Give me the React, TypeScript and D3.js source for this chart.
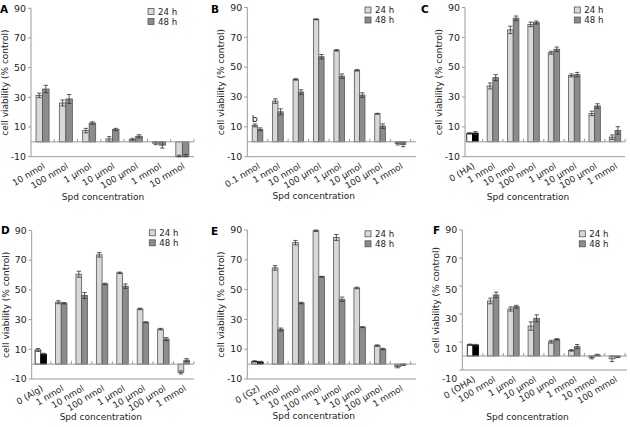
import React from 'react';
import * as d3 from 'd3';

const yTicks = [-10, 10, 30, 50, 70, 90];
const seriesNames = ['24 h', '48 h'];

const catsA = ['10 nmol', '100 nmol', '1 μmol', '10 μmol', '100 μmol', '1 mmol', '10 mmol'];
const a24 = [31.3, 26.2, 7.6, 2.0, 1.6, -0.9, -11];
const a24e = [1.5, 2, 1.5, 1.5, 0.8, 1, 2];
const a48 = [35.6, 28.9, 12.7, 8.3, 3.8, -2.2, -11];
const a48e = [2.5, 3, 0.8, 0.8, 1, 2, 2.5];

const catsB = ['0.1 nmol', '1 nmol', '10 nmol', '100 μmol', '1 μmol', '10 μmol', '100 μmol', '1 mmol'];
const b24 = [11, 27.3, 41.8, 82.1, 61.3, 47.9, 18.8, -1.1];
const b24e = [1, 1.5, 0.5, 0.3, 0.5, 0.5, 0.3, 1];
const b48 = [8.3, 20.1, 33.3, 57, 44, 31.3, 10.5, -1.8];
const b48e = [1, 2, 1.5, 1.5, 1.5, 1.5, 1.5, 1.5];

const catsC = ['0 (HA)', '1 nmol', '10 nmol', '100 nmol', '1 μmol', '10 μmol', '100 μmol', '1 mmol'];
const c24 = [5.6, 37.4, 75, 78.7, 59.7, 44.5, 19, 3.1];
const c24e = [0.5, 2, 2.5, 1.5, 1, 1, 1.5, 1.5];
const c48 = [5.8, 43, 82.8, 79.9, 62, 45, 24, 7.6];
const c48e = [1, 2, 1.5, 1, 1.5, 1.5, 1.5, 2.5];

const catsD = ['0 (Alg)', '1 nmol', '10 nmol', '100 nmol', '1 μmol', '10 μmol', '100 μmol', '1 mmol'];
const d24 = [9.5, 41.7, 60.6, 73.6, 61.5, 37.2, 23.6, -5.6];
const d24e = [1, 1, 2, 1.5, 0.5, 0.5, 0.5, 1];
const d48 = [6.8, 41, 46.2, 54, 52.5, 28.2, 16.9, 2.7];
const d48e = [0.5, 0.5, 2, 0.5, 1.5, 0.3, 1, 1];

const catsE = ['0 (Gz)', '1 nmol', '10 nmol', '100 nmol', '1 μmol', '10 μmol', '100 μmol', '1 mmol'];
const e24 = [1.8, 64.6, 81.5, 89.5, 85, 51.1, 12.4, -1.8];
const e24e = [0.5, 1.5, 1.5, 0.5, 2, 0.5, 0.5, 0.7];
const e48 = [1.4, 23.2, 41, 58.6, 43.5, 24.8, 10.1, -0.5];
const e48e = [0.5, 1, 0.5, 0.3, 1.5, 0.3, 0.5, 0.5];

const catsF = ['0 (OHA)', '100 nmol', '1 μmol', '10 μmol', '100 μmol', '1 mmol', '10 mmol', '100 mmol'];
const f24 = [8, 39.3, 33.6, 21.4, 10.2, 4, -1, -2];
const f24e = [0.5, 2, 1.5, 3, 1, 0.5, 1, 2];
const f48 = [7.8, 43.6, 35.2, 26.9, 11.9, 6.7, 0.7, -0.7];
const f48e = [0.5, 2, 1, 2.5, 0.5, 1.5, 0.5, 0.5];

type Layout = {
  letter: string; lx: number; ly: number;
  axisX: number; bandStart: number; bandEnd: number; axisEnd: number;
  yTop: number; yBottom: number; labelBottom: number;
  legX: number; legY: number; titleX: number; titleY: number;
  control: boolean; barFrac: number;
};

const panels: { layout: Layout; cats: string[]; v24: number[]; e24: number[]; v48: number[]; e48: number[]; note?: string }[] = [
  { layout: { letter: 'A', lx: 0, ly: 12.5, axisX: 31, bandStart: 30.9, bandEnd: 194, axisEnd: 194, yTop: 8.3, yBottom: 156.7, labelBottom: 156.7, legX: 148, legY: 8.5, titleX: 103, titleY: 200, control: false, barFrac: 0.28 }, cats: catsA, v24: a24, e24: a24e, v48: a48, e48: a48e },
  { layout: { letter: 'B', lx: 211, ly: 12.7, axisX: 247.3, bandStart: 247.3, bandEnd: 410.7, axisEnd: 416, yTop: 7.5, yBottom: 156.7, labelBottom: 156.7, legX: 365, legY: 7, titleX: 313.7, titleY: 198.5, control: false, barFrac: 0.26 }, cats: catsB, v24: b24, e24: b24e, v48: b48, e48: b48e, note: 'b' },
  { layout: { letter: 'C', lx: 421, ly: 12.5, axisX: 465, bandStart: 462.3, bandEnd: 625.2, axisEnd: 625, yTop: 7.5, yBottom: 156.7, labelBottom: 156.7, legX: 574.3, legY: 7, titleX: 528, titleY: 200, control: true, barFrac: 0.28 }, cats: catsC, v24: c24, e24: c24e, v48: c48, e48: c48e },
  { layout: { letter: 'D', lx: 1, ly: 234, axisX: 31.7, bandStart: 30.6, bandEnd: 194, axisEnd: 194, yTop: 230.5, yBottom: 379, labelBottom: 379, legX: 149.3, legY: 229.8, titleX: 100.8, titleY: 420, control: true, barFrac: 0.28 }, cats: catsD, v24: d24, e24: d24e, v48: d48, e48: d48e },
  { layout: { letter: 'E', lx: 211, ly: 234.5, axisX: 247.3, bandStart: 247.3, bandEnd: 410.7, axisEnd: 416, yTop: 230, yBottom: 379, labelBottom: 379, legX: 365, legY: 230.8, titleX: 313.7, titleY: 418.5, control: true, barFrac: 0.28 }, cats: catsE, v24: e24, e24: e24e, v48: e48, e48: e48e },
  { layout: { letter: 'F', lx: 433, ly: 234, axisX: 462.3, bandStart: 462.8, bandEnd: 625, axisEnd: 627, yTop: 230, yBottom: 370, labelBottom: 378.5, legX: 579.3, legY: 230.8, titleX: 527.5, titleY: 420, control: true, barFrac: 0.28 }, cats: catsF, v24: f24, e24: f24e, v48: f48, e48: f48e },
];

const FONT = '"DejaVu Sans", Verdana, sans-serif';
const LIGHT = '#d8d8d8';
const DARK = '#8c8c8c';
const OUTLINE = '#555';
const AXIS = '#9a9a9a';
const TEXT = '#222';

function Panel({ p }: { p: typeof panels[number] }) {
  const L = p.layout;
  const y = d3.scaleLinear().domain([-10, 90]).range([L.yBottom, L.yTop]);
  const yLab = d3.scaleLinear().domain([-10, 90]).range([L.labelBottom, L.yTop]);
  const x = d3.scaleBand<string>().domain(p.cats.map((c, i) => i + '')).range([L.bandStart, L.bandEnd]).paddingInner(0).paddingOuter(0);
  const bw = x.bandwidth();
  const barW = bw * L.barFrac;
  const clamp = (v: number) => Math.max(-10, Math.min(90, v));
  const zeroY = y(0);

  const bars: JSX.Element[] = [];
  p.cats.forEach((c, i) => {
    const cx = (x(i + '') as number) + bw / 2;
    [0, 1].forEach((s) => {
      const v = s === 0 ? p.v24[i] : p.v48[i];
      const e = s === 0 ? p.e24[i] : p.e48[i];
      const bx = s === 0 ? cx - barW : cx;
      const yv = y(clamp(v));
      const isCtrl = L.control && i === 0;
      const fill = isCtrl ? (s === 0 ? '#ffffff' : '#000000') : (s === 0 ? LIGHT : DARK);
      const stroke = isCtrl ? '#000' : OUTLINE;
      bars.push(
        <rect key={`b${i}-${s}`} x={bx} y={Math.min(yv, zeroY)} width={barW} height={Math.abs(zeroY - yv)} fill={fill} stroke={stroke} strokeWidth={0.8} />
      );
      if (e > 0) {
        const ecx = bx + barW / 2;
        const y1 = y(clamp(v + e));
        const y2 = y(clamp(v - e));
        const cw = 2.2;
        bars.push(
          <g key={`e${i}-${s}`} stroke="#333" strokeWidth={0.8}>
            <line x1={ecx} x2={ecx} y1={y1} y2={y2} />
            <line x1={ecx - cw} x2={ecx + cw} y1={y1} y2={y1} />
            <line x1={ecx - cw} x2={ecx + cw} y1={y2} y2={y2} />
          </g>
        );
      }
    });
  });

  return (
    <g>
      <text x={L.lx} y={L.ly} fontFamily={FONT} fontWeight="bold" fontSize={10.5} fill="#000">{L.letter}</text>
      <line x1={L.axisX} x2={L.axisX} y1={L.yTop} y2={L.yBottom} stroke={AXIS} strokeWidth={1} />
      {yTicks.map((t) => (
        <g key={t}>
          <line x1={L.axisX - 3} x2={L.axisX} y1={y(t)} y2={y(t)} stroke={AXIS} strokeWidth={1} />
          <text x={L.axisX - 5} y={yLab(t)} dy="0.35em" textAnchor="end" fontFamily={FONT} fontSize={9.4} fill={TEXT}>{t}</text>
        </g>
      ))}
      <line x1={L.axisX} x2={L.axisEnd} y1={L.yBottom} y2={L.yBottom} stroke={AXIS} strokeWidth={1} />
      {bars}
      <line x1={L.axisX} x2={L.axisEnd} y1={zeroY} y2={zeroY} stroke={AXIS} strokeWidth={1} />
      {p.cats.map((c, i) => (
        <line key={'t' + i} x1={(x(i + '') as number) + bw} x2={(x(i + '') as number) + bw} y1={zeroY} y2={zeroY - 3} stroke={AXIS} strokeWidth={1} />
      ))}
      {p.note && (
        <text x={(x('0') as number) + bw / 2 - barW / 2} y={y(clamp(p.v24[0] + p.e24[0])) - 1.5} textAnchor="middle" fontFamily={FONT} fontSize={9.5} fill={TEXT}>{p.note}</text>
      )}
      {p.cats.map((c, i) => {
        const cx = (x(i + '') as number) + bw / 2;
        return (
          <text key={'c' + i} transform={`translate(${cx + 3},${L.yBottom + 11}) rotate(-31)`} textAnchor="end" fontFamily={FONT} fontSize={8.8} fill={TEXT}>{c}</text>
        );
      })}
      <text x={L.titleX} y={L.titleY} textAnchor="middle" fontFamily={FONT} fontSize={9} fill={TEXT}>Spd concentration</text>
      <text transform={`translate(${L.axisX - 23},${(L.yTop + L.yBottom) / 2}) rotate(-90)`} textAnchor="middle" fontFamily={FONT} fontSize={9} fill={TEXT}>cell viability (% control)</text>
      {seriesNames.map((s, k) => (
        <g key={s}>
          <rect x={L.legX} y={L.legY + k * 10} width={6} height={6} fill={k === 0 ? LIGHT : DARK} stroke={OUTLINE} strokeWidth={0.8} />
          <text x={L.legX + 10} y={L.legY + k * 10 + 6.3} fontFamily={FONT} fontSize={8.6} fill={TEXT}>{s}</text>
        </g>
      ))}
    </g>
  );
}

export default function App() {
  return (
    <svg width={630} height={427} style={{ position: 'absolute', left: 0, top: 0, background: '#fff' }}>
      <rect x={0} y={0} width={630} height={427} fill="#fff" />
      {panels.map((p) => (
        <Panel key={p.layout.letter} p={p} />
      ))}
    </svg>
  );
}
